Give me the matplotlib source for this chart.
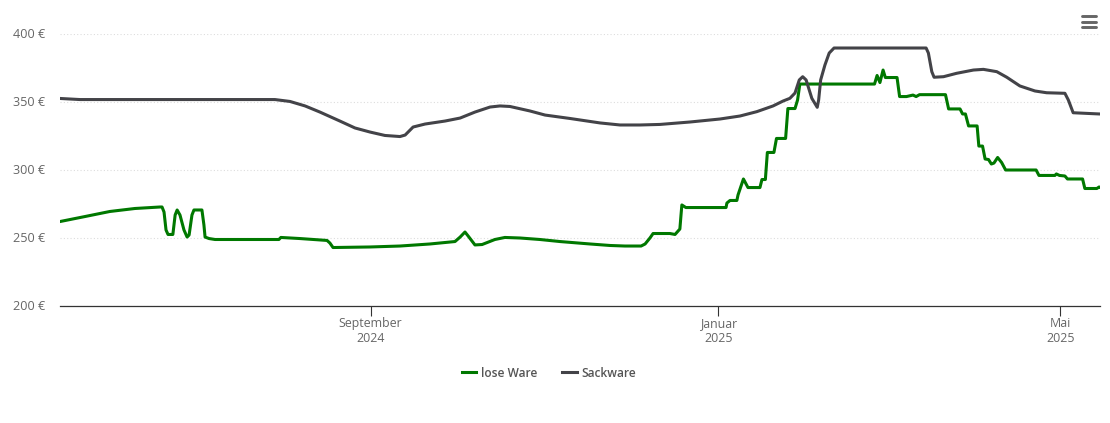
import datetime as dt
import matplotlib
matplotlib.use("Agg")
import matplotlib.pyplot as plt
import matplotlib.dates as mdates
from matplotlib.lines import Line2D

start_date = dt.datetime(2024, 5, 15)
end_date = dt.datetime(2025, 5, 14, 22)
tick_dates = [dt.datetime(2024, 9, 1), dt.datetime(2025, 1, 1), dt.datetime(2025, 5, 1)]
tick_labels = ["September\n2024", "Januar\n2025", "Mai\n2025"]
y_ticks = [200, 250, 300, 350, 400]
series_names = ["lose Ware", "Sackware"]

lose_days = [0, 8.8, 17.5, 26.3, 35.1, 35.8, 36.5, 37.2, 37.9, 39.6, 40.4, 41.1, 42.1, 43.5, 44.6, 45.3,
             46.3, 47, 49.8, 50.5, 50.9, 52.3, 54.4, 76.8, 77.5, 84.2, 93.7, 94.7, 95.8, 108.8, 119.3,
             129.8, 138.6, 140.4, 142.1, 143.2, 145.6, 148.1, 152.6, 156.1, 161.4, 168.4, 175.4, 186,
             193, 198.2, 203.9, 205.3, 207, 208.1, 214, 215.8, 217.5, 217.9, 218.2, 219.6, 233.7, 234,
             235.1, 237.5, 237.9, 239.8, 241.4, 245.6, 246.3, 247.5, 248.2, 250.5, 251.4, 254.6, 255.4,
             257.9, 258.8, 259.6, 285.8, 286.7, 287.7, 288.8, 289.6, 293.7, 294.6, 297, 299.3, 300.4,
             301.6, 310.7, 311.8, 315.8, 316.7, 317.7, 318.8, 321.8, 322.4, 323.7, 324.6, 325.8, 326.8,
             327.7, 329, 330.4, 331.8, 342.5, 343.5, 349.1, 349.6, 350.7, 352.6, 353.5, 358.8, 359.6,
             363.8, 364.6, 364.9]
lose_values = [262.1, 265.8, 269.5, 271.7, 272.8, 272.8, 269.1, 255.9, 252.6, 252.6, 266.9, 270.6, 266.9,
               255.9, 250.7, 252.2, 266.9, 270.6, 270.6, 259.6, 250.7, 249.6, 248.9, 248.9, 250.4, 249.6,
               248.2, 246.3, 243, 243.4, 244.1, 245.6, 247.4, 250.7, 254.4, 251.5, 244.9, 245.2, 248.9,
               250.4, 250, 248.9, 247.4, 245.6, 244.5, 244.1, 244.1, 245.6, 250, 253.3, 253.3, 252.6,
               256.6, 266.9, 274.3, 272.4, 272.4, 275.7, 277.6, 277.6, 281.6, 293.4, 287.1, 287.1, 293,
               293, 312.9, 312.9, 323.2, 323.2, 345.2, 345.2, 351.5, 363.2, 363.2, 369.5, 364.3, 373.5,
               368, 368, 354, 354, 355.1, 354, 355.4, 355.4, 344.9, 344.9, 341.2, 341.2, 332.4, 332.4,
               317.6, 317.6, 308.1, 307.7, 304.4, 305.1, 309.2, 305.5, 300, 300, 296, 296, 297.1, 296,
               295.6, 293.4, 293.4, 286.4, 286.4, 287.5, 287.3]

sack_days = [0, 7, 75.4, 80.7, 86, 91.2, 98.2, 103.5, 108.8, 114, 119.3, 121.1, 123.9, 128.1, 135.1, 140.4,
             145.6, 150.9, 154.4, 157.9, 164.9, 170.2, 178.9, 189.5, 196.5, 203.5, 210.5, 221.1, 231.6,
             238.6, 244.5, 250.2, 253.7, 256.1, 257.9, 259.4, 260.6, 261.8, 263.8, 265.7, 266.2, 266.9,
             268.4, 269.9, 271.6, 303.9, 304.7, 305.9, 306.7, 310, 314.6, 320.5, 324, 328.7, 332.2, 336.8,
             342.1, 346.2, 352.6, 353.8, 355.5, 364.7, 364.9]
sack_values = [352.6, 351.8, 351.8, 350.4, 347.1, 342.6, 336, 330.9, 327.9, 325.4, 324.6, 325.7, 331.6, 333.8,
               336, 338.2, 342.6, 346.3, 347.1, 346.7, 343.4, 340.4, 337.9, 334.6, 333.1, 333.1, 333.5,
               335.3, 337.5, 339.7, 342.9, 347.1, 350.7, 352.7, 356.6, 366.2, 368.6, 366.2, 352.7, 346.1,
               351.5, 366.2, 377.2, 386, 389.7, 389.7, 386, 372.3, 368.2, 368.6, 371.1, 373.5, 374, 372.3,
               368.2, 361.8, 358.1, 356.8, 356.4, 351.5, 342.1, 341.2, 341.2]


def to_dates(days):
    return [start_date + dt.timedelta(days=d) for d in days]


W, H = 1110, 423
plt.rcParams["font.family"] = ["Open Sans", "DejaVu Sans"]
fig = plt.figure(figsize=(W / 100, H / 100), dpi=100, facecolor="white")
ax = fig.add_axes([60 / W, 1 - 306 / H, 1040 / W, 272 / H])

ax.plot(to_dates(lose_days), lose_values, color="#007800", lw=2.2, label=series_names[0],
        solid_joinstyle="round", zorder=3)
ax.plot(to_dates(sack_days), sack_values, color="#434348", lw=2.2, label=series_names[1],
        solid_joinstyle="round", zorder=3)

ax.set_xlim(start_date, end_date)
ax.set_ylim(200, 400)
ax.set_yticks(y_ticks)
ax.set_yticklabels([f"{v} €" for v in y_ticks], color="#666666", fontsize=9.1)
ax.tick_params(axis="y", length=0, pad=10.8)
for lab in ax.get_yticklabels():
    lab.set_verticalalignment("center")
ax.set_xticks(tick_dates)
ax.set_xticklabels(tick_labels, color="#666666", fontsize=8.9, linespacing=1.2)
ax.tick_params(axis="x", length=7, width=0.8, color="#333333", pad=1.0)
ax.grid(axis="y", color="#dddddd", lw=0.8, ls=(0, (1, 2)), zorder=0)
ax.set_axisbelow(True)
for side in ["top", "right", "left"]:
    ax.spines[side].set_visible(False)
ax.spines["bottom"].set_color("#333333")
ax.spines["bottom"].set_linewidth(0.9)
ax.xaxis.set_major_locator(plt.FixedLocator(mdates.date2num(tick_dates)))

leg = ax.legend(loc="center", bbox_to_anchor=(549 / W, 1 - 373 / H), bbox_transform=fig.transFigure,
                ncol=2, frameon=False, fontsize=8.6, handlelength=1.25, handletextpad=0.42,
                columnspacing=2.0, labelcolor="#555555")
for t in leg.get_texts():
    t.set_fontweight("semibold")

# menu icon
for yp in (16.5, 22, 27):
    fig.add_artist(Line2D([1082 / W, 1096 / W], [1 - yp / H, 1 - yp / H], color="#666666", lw=2.1,
                          solid_capstyle="round", transform=fig.transFigure))

fig.savefig("out.png", dpi=100, facecolor="white")
